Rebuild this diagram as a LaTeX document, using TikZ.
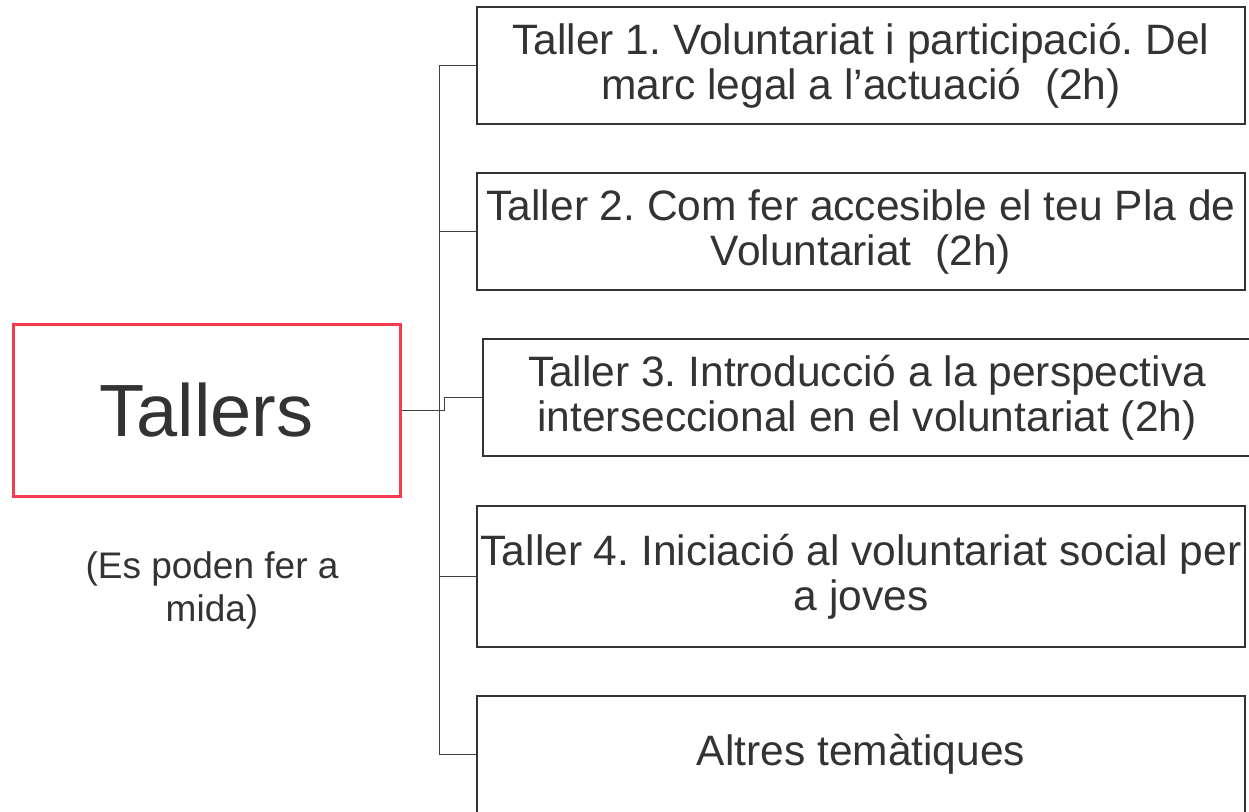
\documentclass[tikz,border=0pt]{standalone}
\usepackage{fontspec}
\setmainfont{Liberation Sans}
\usetikzlibrary{positioning}
\definecolor{tallersred}{HTML}{F43B4F}
\definecolor{textgray}{HTML}{333333}
\frenchspacing

\begin{document}
\begin{tikzpicture}[x=1pt,y=-1pt,align=center,text=textgray]
    \tikzstyle{main} = [draw=tallersred,line width=3pt,minimum width=387pt,minimum height=172pt,font=\fontsize{74}{85}\selectfont]
    \tikzstyle{taller} = [draw=black!80,line width=1.3pt,minimum width=768pt,minimum height=117pt,font=\fontsize{42.5}{45}\selectfont]
    \tikzstyle{note} = [font=\fontsize{37}{43}\selectfont]
    \tikzstyle{link} = [draw=black!75,line width=1pt]
      \useasboundingbox (0,0) rectangle (1249,811);
      \node[main] (tallers) at (206.5,410) {Tallers};
      \node[note] (nota) at (212,590) {(Es poden fer a\\mida)};
      \node[taller] (taller1) at (861,65.5) {Taller 1. Voluntariat i participació. Del\\marc legal a l’actuació~ (2h)};
      \node[taller] (taller2) at (861,231.5) {Taller 2. Com fer accesible el teu Pla de\\Voluntariat~ (2h)};
      \node[taller] (taller3) at (867,397.5) {Taller 3. Introducció a la perspectiva\\interseccional en el voluntariat (2h)};
      \node[taller,minimum height=141pt] (taller4) at (861,576.5) {Taller 4. Iniciació al voluntariat social per\\a joves};
      \node[taller] (altres) at (861,754.5) {Altres temàtiques};
      \coordinate (bus) at (439,410);
      \draw[link] (tallers.east) -- (bus);
      \foreach \t in {taller1,taller2,taller4,altres} \draw[link] (\t.west) -| (bus);
      \draw[link] (bus) -- ++(5,0) |- (taller3.west);
  \end{tikzpicture}
\end{document}
